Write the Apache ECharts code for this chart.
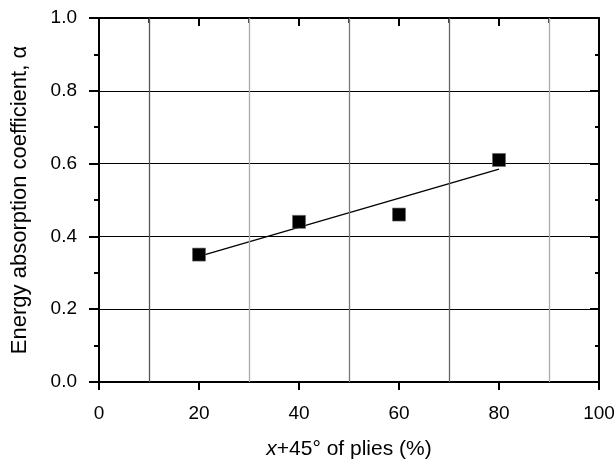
<!DOCTYPE html>
<html>
<head>
<meta charset="utf-8">
<script src="https://cdn.jsdelivr.net/npm/echarts@6/dist/echarts.min.js"></script>
<style>html,body{margin:0;padding:0;background:#fff;}#c{width:616px;height:460px;}</style>
</head>
<body>
<div id="c"></div>
<script>
var xValues = [20, 40, 60, 80];
var alphaValues = [0.35, 0.44, 0.46, 0.61];
var fitX = [20, 80];
var fitY = [0.345, 0.585];
var vGridX = [10, 30, 50, 70, 90];
var vGridColors = ['#555', '#aaa', '#777', '#666', '#aaa'];

var font = 'Liberation Sans, Arial, Helvetica, sans-serif';
var chart = echarts.init(document.getElementById('c'));
chart.setOption({
  animation: false,
  backgroundColor: '#fff',
  grid: {left: 99, right: 17, top: 18, bottom: 78, containLabel: false, outerBoundsMode: 'none'},
  xAxis: [{
    type: 'value', min: 0, max: 100, interval: 20, position: 'bottom',
    name: '{i|x}+45° of plies (%)', nameLocation: 'middle', nameGap: 57,
    nameTextStyle: {fontFamily: font, fontSize: 21, color: '#000',
      rich: {i: {fontStyle: 'italic', fontFamily: font, fontSize: 21, color: '#000'}}},
    axisLine: {show: true, onZero: false, lineStyle: {color: '#000', width: 2}},
    axisTick: {show: true, inside: false, length: 8, lineStyle: {color: '#000', width: 2}},
    axisLabel: {fontFamily: font, fontSize: 19, color: '#000', margin: 22},
    splitLine: {show: false}
  }, {
    type: 'value', min: 0, max: 100, interval: 20, position: 'top',
    axisLine: {show: true, onZero: false, lineStyle: {color: '#000', width: 2}},
    axisTick: {show: true, inside: true, length: 8, lineStyle: {color: '#000', width: 2}},
    minorTick: {show: true, splitNumber: 2, length: 5, lineStyle: {color: '#000', width: 1.5}},
    axisLabel: {show: false},
    splitLine: {show: false}
  }],
  yAxis: [{
    type: 'value', min: 0, max: 1, interval: 0.2, position: 'left',
    name: 'Energy absorption coefficient, α', nameLocation: 'middle', nameGap: 68,
    nameTextStyle: {fontFamily: font, fontSize: 22, color: '#000'},
    axisLine: {show: true, onZero: false, lineStyle: {color: '#000', width: 2}},
    axisTick: {show: true, inside: false, length: 10, lineStyle: {color: '#000', width: 2}},
    minorTick: {show: true, splitNumber: 2, length: 5, lineStyle: {color: '#000', width: 2}},
    axisLabel: {fontFamily: font, fontSize: 19, color: '#000', margin: 22,
      formatter: function (v) { return v.toFixed(1); }},
    splitLine: {show: true, lineStyle: {color: '#000', width: 1.2}}
  }, {
    type: 'value', min: 0, max: 1, interval: 0.2, position: 'right',
    axisLine: {show: true, onZero: false, lineStyle: {color: '#000', width: 2}},
    axisTick: {show: true, inside: true, length: 9, lineStyle: {color: '#000', width: 2}},
    minorTick: {show: true, splitNumber: 2, length: 4, lineStyle: {color: '#000', width: 2}},
    axisLabel: {show: false},
    splitLine: {show: false}
  }],
  series: [{
    type: 'line', xAxisIndex: 0, yAxisIndex: 0,
    data: fitX.map(function (x, i) { return [x, fitY[i]]; }),
    symbol: 'none', lineStyle: {color: '#000', width: 1.3}, z: 3,
    markLine: {
      silent: true, symbol: ['none', 'none'], label: {show: false},
      data: vGridX.map(function (x, i) {
        return {xAxis: x, lineStyle: {color: vGridColors[i], width: 1.3, type: 'solid'}};
      })
    }
  }, {
    type: 'scatter', xAxisIndex: 0, yAxisIndex: 0,
    data: xValues.map(function (x, i) { return [x, alphaValues[i]]; }),
    symbol: 'rect', symbolSize: 13,
    itemStyle: {color: '#000', borderColor: '#666', borderWidth: 0.6, opacity: 1}, z: 4
  }]
});
</script>
</body>
</html>
